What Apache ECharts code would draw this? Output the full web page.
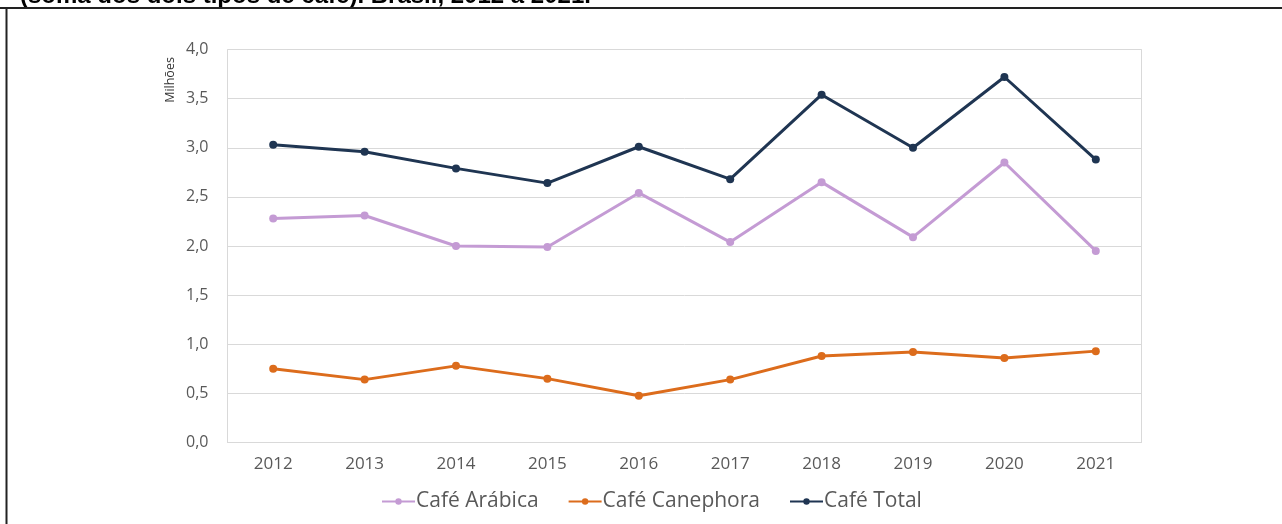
<!DOCTYPE html>
<html>
<head>
<meta charset="utf-8">
<script src="https://cdn.jsdelivr.net/npm/echarts@6/dist/echarts.min.js"></script>
<style>
html,body{margin:0;padding:0;background:#fff;}
#chart{width:1282px;height:524px;}
</style>
</head>
<body>
<div id="chart"></div>
<script>
const categories = ['2012','2013','2014','2015','2016','2017','2018','2019','2020','2021'];
const arabica = [2.28, 2.31, 2.00, 1.99, 2.54, 2.04, 2.65, 2.09, 2.85, 1.95];
const canephora = [0.75, 0.64, 0.78, 0.65, 0.475, 0.64, 0.88, 0.92, 0.86, 0.93];
const total = [3.03, 2.96, 2.79, 2.64, 3.01, 2.68, 3.54, 3.00, 3.72, 2.88];
const seriesNames = ['Café Arábica', 'Café Canephora', 'Café Total'];
const titleText = '(soma dos dois tipos de café). Brasil, 2012 a 2021.';
const axisName = 'Milhões';

const chart = echarts.init(document.getElementById('chart'), null, {renderer: 'canvas'});
const font = '"Open Sans", sans-serif';
function mk(name, data, color) {
  return {
    name: name, type: 'line', data: data,
    symbol: 'circle', symbolSize: 8,
    lineStyle: {color: color, width: 3},
    itemStyle: {color: color},
    emphasis: {disabled: true}
  };
}
chart.setOption({
  animation: false,
  backgroundColor: '#fff',
  grid: {left: 227.5, right: 140.5, top: 49.5, bottom: 81.5, show: true, borderColor: '#d9d9d9', borderWidth: 1},
  xAxis: {
    type: 'category', data: categories, boundaryGap: true,
    axisLine: {show: true, lineStyle: {color: '#d9d9d9'}},
    axisTick: {show: false},
    axisLabel: {color: '#595959', fontSize: 17, fontFamily: font, margin: 13}
  },
  yAxis: {
    type: 'value', min: 0, max: 4, interval: 0.5,
    axisLine: {show: false}, axisTick: {show: false},
    splitLine: {lineStyle: {color: '#d9d9d9', width: 1}},
    axisLabel: {color: '#595959', fontSize: 16, fontFamily: font, margin: 19,
      formatter: v => v.toFixed(1).replace('.', ',')}
  },
  legend: {
    data: seriesNames, top: 486, left: 376, itemGap: 29,
    itemWidth: 33, itemHeight: 8,
    textStyle: {color: '#595959', fontSize: 21, fontFamily: font, padding: [0,0,0,-4]}
  },
  graphic: [
    {type: 'text', left: 20, top: -16, style: {text: titleText, font: 'bold 24px "Liberation Sans", Arial, sans-serif', fill: '#000'}},
    {type: 'rect', shape: {x: 0, y: 7, width: 1282, height: 2}, style: {fill: '#222'}},
    {type: 'rect', shape: {x: 5.5, y: 7, width: 2, height: 517}, style: {fill: '#222'}},
    {type: 'text', x: 170, y: 80, rotation: Math.PI/2, style: {text: axisName, font: '12.5px ' + font, fill: '#333', align: 'center', verticalAlign: 'middle'}}
  ],
  series: [
    mk(seriesNames[0], arabica, '#c49bd4'),
    mk(seriesNames[1], canephora, '#dc6c1c'),
    mk(seriesNames[2], total, '#1f3552')
  ]
});
</script>
</body>
</html>
